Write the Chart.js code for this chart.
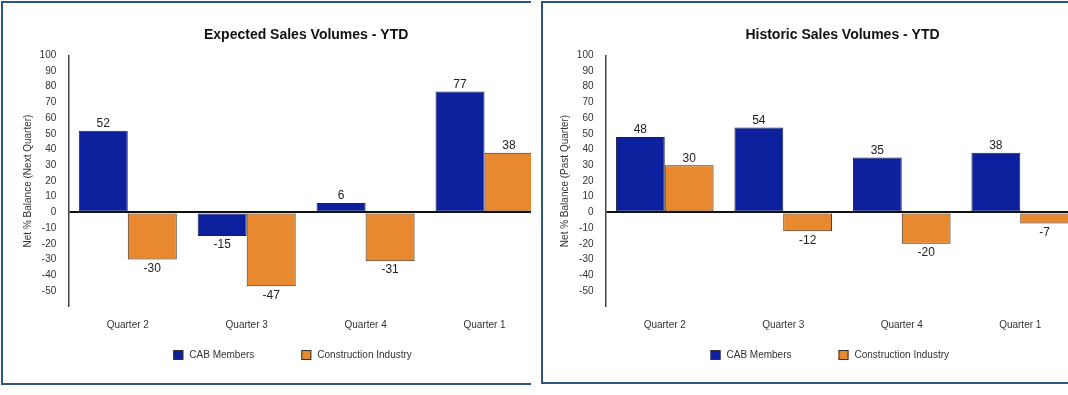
<!DOCTYPE html>
<html>
<head>
<meta charset="utf-8">
<script src="https://cdn.jsdelivr.net/npm/chart.js@4/dist/chart.umd.min.js"></script>
<style>
    html, body { margin: 0; padding: 0; background: #ffffff; }
    body { width: 1068px; height: 395px; overflow: hidden; position: relative; }
    .panel {
        position: absolute;
        box-sizing: border-box;
        overflow: hidden;
        border: 2px solid #2f5680;
        border-right: none;
        background: #ffffff;
    }
    #panelExpected { left: 1px; top: 1px; width: 530px; height: 384px; }
    #panelHistoric { left: 541px; top: 1px; width: 540px; height: 383px; }
    .holder { position: absolute; top: -3px; }
    #panelExpected .holder { left: -3px; }
    #panelHistoric .holder { left: -2px; }
    canvas { display: block; }
</style>
</head>
<body>
<div class="panel" id="panelExpected">
    <div class="holder"><canvas id="expectedChart" width="560" height="395"></canvas></div>
</div>
<div class="panel" id="panelHistoric">
    <div class="holder"><canvas id="historicChart" width="560" height="395"></canvas></div>
</div>

<script>
const quarters = ["Quarter 2", "Quarter 3", "Quarter 4", "Quarter 1"];

const expectedCab = [52, -15, 6, 77];
const expectedIndustry = [-30, -47, -31, 38];

const historicCab = [48, 54, 35, 38];
const historicIndustry = [30, -12, -20, -7];

const seriesNames = ["CAB Members", "Construction Industry"];
const yMin = -60;
const yMax = 100;
const yStep = 10;

const FONT = "'Liberation Sans', Arial, Helvetica, sans-serif";
const BLUE = "#0c1f9c";
const ORANGE = "#e8892f";

// value labels above / below each bar
const valueLabels = {
    id: "valueLabels",
    afterDatasetsDraw(chart) {
        const ctx = chart.ctx;
        ctx.save();
        ctx.font = "12px " + FONT;
        ctx.fillStyle = "#222";
        ctx.textAlign = "center";
        ctx.textBaseline = "middle";
        chart.data.datasets.forEach((ds, i) => {
            chart.getDatasetMeta(i).data.forEach((bar, j) => {
                const v = ds.data[j];
                ctx.fillText(String(v), bar.x, v >= 0 ? bar.y - 7 : bar.y + 9);
            });
        });
        ctx.restore();
    }
};

// simple legend row under the axis
const boxLegend = {
    id: "boxLegend",
    afterDraw(chart, args, opts) {
        const ctx = chart.ctx;
        let x = chart.chartArea.left + opts.offset;
        const y = opts.y;
        ctx.save();
        ctx.font = "10px " + FONT;
        ctx.textBaseline = "middle";
        ctx.textAlign = "left";
        chart.data.datasets.forEach(ds => {
            ctx.fillStyle = ds.backgroundColor;
            ctx.fillRect(x, y - 5, 10, 10);
            ctx.strokeStyle = "#333";
            ctx.lineWidth = 1;
            ctx.strokeRect(x + 0.5, y - 4.5, 9, 9);
            ctx.fillStyle = "#333";
            ctx.fillText(ds.label, x + 16, y);
            x += 16 + ctx.measureText(ds.label).width + 47;
        });
        ctx.restore();
    }
};

function renderChart(canvasId, title, axisTitle, cab, industry, axisLeft, axisRight, yTitlePad) {
    const canvas = document.getElementById(canvasId);
    if (!canvas) return null;

    return new Chart(canvas, {
        type: "bar",
        data: {
            labels: quarters,
            datasets: [{
                label: seriesNames[0],
                data: cab,
                backgroundColor: BLUE,
                borderColor: "#1d2340",
                borderWidth: 1,
                borderSkipped: false
            }, {
                label: seriesNames[1],
                data: industry,
                backgroundColor: ORANGE,
                borderColor: "#3a2a1a",
                borderWidth: 1,
                borderSkipped: false
            }]
        },
        options: {
            responsive: false,
            animation: false,
            categoryPercentage: 0.824,
            barPercentage: 1,
            layout: {
                padding: { left: 0, right: canvas.width - axisRight, top: 0, bottom: 395 - 306.7 - 30 }
            },
            plugins: {
                legend: { display: false },
                tooltip: { enabled: false },
                title: {
                    display: true,
                    text: title,
                    fullSize: false,
                    color: "#111",
                    font: { family: FONT, size: 14, weight: "bold" },
                    padding: { top: 27, bottom: 11.5 }
                },
                boxLegend: { offset: 105, y: 355 }
            },
            scales: {
                x: {
                    grid: { display: false },
                    border: { display: false },
                    ticks: {
                        color: "#333",
                        font: { family: FONT, size: 10 },
                        padding: 5
                    },
                    afterFit(scale) { scale.height = 30; }
                },
                y: {
                    min: yMin,
                    max: yMax,
                    z: 1,
                    grid: {
                        drawTicks: false,
                        color: c => c.tick && c.tick.value === 0 ? "#111" : "rgba(0,0,0,0)",
                        lineWidth: c => c.tick && c.tick.value === 0 ? 2 : 0
                    },
                    border: { display: true, color: "#444", width: 1.5 },
                    ticks: {
                        stepSize: yStep,
                        color: "#333",
                        padding: 12,
                        font: { family: FONT, size: 10 },
                        callback: v => v === yMin ? "" : v
                    },
                    title: {
                        display: true,
                        text: axisTitle,
                        color: "#333",
                        font: { family: FONT, size: 10 },
                        padding: { top: yTitlePad, bottom: 0 }
                    },
                    afterFit(scale) { scale.width = axisLeft; }
                }
            }
        },
        plugins: [valueLabels, boxLegend]
    });
}

renderChart("expectedChart", "Expected Sales Volumes - YTD", "Net % Balance (Next Quarter)",
    expectedCab, expectedIndustry, 68.3, 544, 22);
renderChart("historicChart", "Historic Sales Volumes - YTD", "Net % Balance (Past Quarter)",
    historicCab, historicIndustry, 64.5, 538.5, 18);
</script>
</body>
</html>
